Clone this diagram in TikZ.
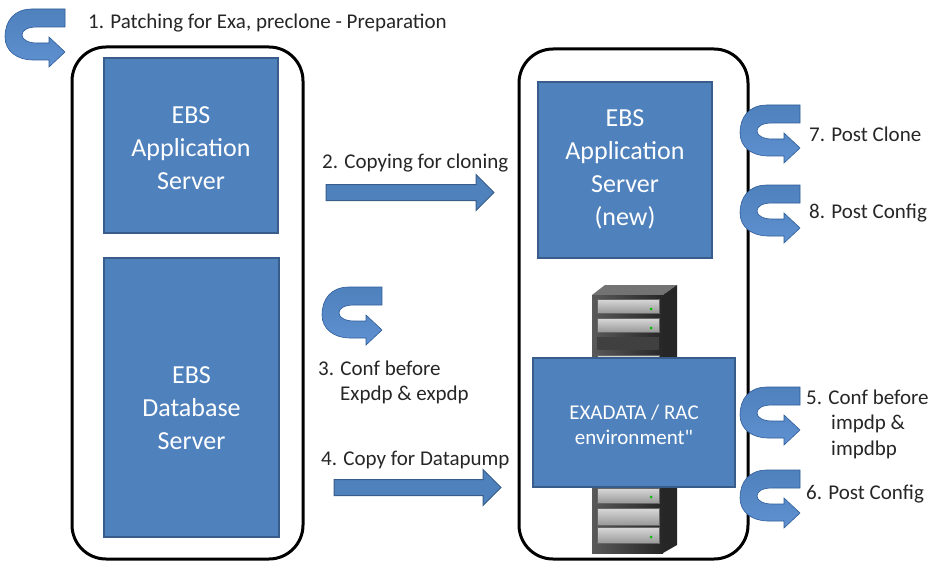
\documentclass[tikz,border=0pt]{standalone}
\usepackage{fontspec}
\setmainfont{Carlito}[Ligatures=TeXOff]
\usetikzlibrary{shapes.arrows}

\definecolor{ebsblue}{HTML}{4F81BD}
\definecolor{ebsedge}{HTML}{385D8A}
\definecolor{turnlight}{HTML}{5F90D0}
\definecolor{turndark}{HTML}{2E5C99}
\definecolor{notegray}{HTML}{262626}

\begin{document}
\begin{tikzpicture}[x=1pt,y=-1pt,
		frame/.style={draw=black,line width=3pt,rounded corners=34pt},
		ebsbox/.style={draw=ebsedge,fill=ebsblue,line width=1.2pt},
		ebstext/.style={text=white,align=center,font=\fontsize{26}{33}\selectfont},
		exatext/.style={text=white,align=center,font=\fontsize{21}{25}\selectfont},
		flow/.style={single arrow,draw=ebsedge,fill=ebsblue,line width=1pt,inner sep=7.5pt,single arrow head extend=10pt},
		note/.style={text=notegray,align=left,anchor=base west,inner sep=0pt,font=\fontsize{21}{25.5}\selectfont},
		turn/.pic={
			\path[draw=turndark,line width=0.6pt,top color=ebsblue,middle color=turndark,bottom color=turnlight]
			(60,0) -- (27,0) .. controls (9,0) and (0,12) .. (0,28)
			.. controls (0,42) and (12,51) .. (28,51) -- (44,51) -- (44,58) -- (60,43)
			-- (44,28) -- (44,34) -- (32,34) .. controls (24,34) and (17,31) .. (17,26)
			.. controls (17,21) and (23,18) .. (32,18) -- (60,18) -- cycle;
		}]
	\useasboundingbox (0,0) rectangle (933,564);
	
	% the two machines
	\node[frame,minimum width=231,minimum height=512] (source) at (187.5,303) {};
	\node[frame,minimum width=229,minimum height=510] (target) at (633.5,304) {};
	
	\node[ebsbox,minimum width=174,minimum height=175] (appsrv) at (191,145.5) {};
	\node[ebstext] (apptext) at (191,148) {EBS\\Application\\Server};
	\node[ebsbox,minimum width=175,minimum height=279] (dbsrv) at (191.5,397.5) {};
	\node[ebstext] (dbtext) at (191.5,408) {EBS\\Database\\Server};
	\node[ebsbox,minimum width=174,minimum height=176] (newapp) at (625,170) {};
	\node[ebstext] (newtext) at (625,169) {EBS\\Application\\Server\\(new)};
	
	% rack cabinet behind the exadata box
	\fill[black!55] (592,295) -- (605,285) -- (677,285) -- (663,295) -- cycle;
	\fill[black!85] (663,295) -- (677,285) -- (677,545) -- (663,553) -- cycle;
	\shade[left color=black!65,right color=black!85] (592,295) rectangle (663,553);
	\foreach \top/\bot in {299/313,318/332,355/370,488/503,508/525,527/543}
		\shade[top color=black!15,bottom color=black!40,draw=black!60] (597,\top) rectangle (659,\bot);
	\fill[black!75] (597,337) rectangle (659,350);
	\foreach \y in {309,328,497,537}
		\fill[green!75!black] (651,\y) circle (1.5);
	
	\node[ebsbox,minimum width=202,minimum height=129] (exadata) at (634,422.5) {};
	\node[exatext] (exatext) at (634,424.5) {EXADATA / RAC\\environment"};
	
	% copy steps
	\node[flow,minimum height=168] (clone) at (406,192.5) {};
	\node[flow,minimum height=167] (dump) at (413.5,487.5) {};
	
	% configuration steps
	\pic at (5,9) {turn};
	\pic at (322,287) {turn};
	\pic at (740,105) {turn};
	\pic at (740,185) {turn};
	\pic at (740,387) {turn};
	\pic at (740,470) {turn};
	
	\node[note] (step1) at (88,29) {1. Patching for Exa, preclone - Preparation};
	\node[note] (step2) at (322,168) {2. Copying for cloning};
	\node[note] (step3) at (318,400.5) {3. Conf before\\\hspace*{22pt}Expdp \& expdp};
	\node[note] (step4) at (321,465) {4. Copy for Datapump};
	\node[note] (step5) at (806,455) {5. Conf before\\\hspace*{25pt}impdp \&\\\hspace*{25pt}impdbp};
	\node[note] (step6) at (806,499) {6. Post Config};
	\node[note] (step7) at (809,142) {7. Post Clone};
	\node[note] (step8) at (809,218) {8. Post Config};
\end{tikzpicture}
\end{document}
